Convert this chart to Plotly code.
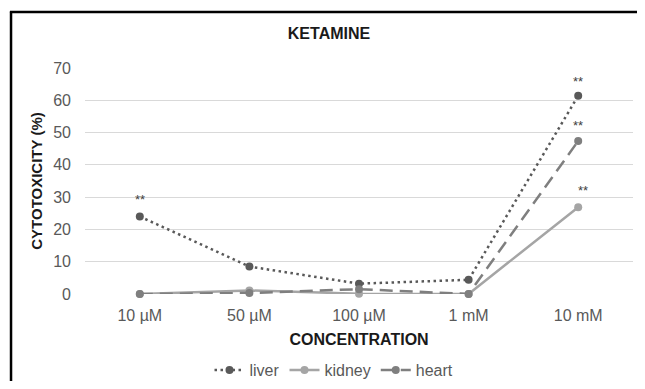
import plotly.graph_objects as go

categories = ["10 µM", "50 µM", "100 µM", "1 mM", "10 mM"]
liver = [24.0, 8.5, 3.2, 4.4, 61.4]
kidney = [0.0, 1.1, 0.1, 0.0, 26.9]
heart = [0.0, 0.3, 1.5, 0.0, 47.4]
y_ticks = [0, 10, 20, 30, 40, 50, 60, 70]

# significance marks: (series values, category index)
sig_marks = [(liver, 0), (liver, 4), (heart, 4), (kidney, 4)]
sig_shift = [(0, 17), (0, 14), (0, 15), (5, 17)]

FONT = "Liberation Sans, Arial"
OFF = 8  # page body margin offset
W, H = 645 - 2 * OFF, 389 - 2 * OFF

fig = go.Figure()
fig.add_trace(go.Scatter(x=categories, y=liver, name="liver", mode="lines+markers",
                         line=dict(color="#595959", width=2.5, dash="2.5px,3.5px"),
                         marker=dict(size=8, color="#595959"), cliponaxis=False))
fig.add_trace(go.Scatter(x=categories, y=kidney, name="kidney", mode="lines+markers",
                         line=dict(color="#a5a5a5", width=2.5),
                         marker=dict(size=8, color="#a5a5a5"), cliponaxis=False))
fig.add_trace(go.Scatter(x=categories, y=heart, name="heart", mode="lines+markers",
                         line=dict(color="#7f7f7f", width=2.5, dash="13px,7px"),
                         marker=dict(size=8, color="#7f7f7f"), cliponaxis=False))

for (series, idx), (dx, dy) in zip(sig_marks, sig_shift):
    fig.add_annotation(x=categories[idx], y=series[idx], text="**", showarrow=False,
                       yshift=dy, xshift=dx,
                       font=dict(family=FONT, size=13, color="#404040"))

# outer frame: top and left edges (right/bottom fall outside the picture)
fig.add_shape(type="line", xref="paper", yref="paper",
              x0=-0.137, x1=1.3, y0=1.248, y1=1.248,
              line=dict(color="black", width=2.5), layer="below")
fig.add_shape(type="line", xref="paper", yref="paper",
              x0=-0.135, x1=-0.135, y0=-0.8, y1=1.25,
              line=dict(color="black", width=2.5), layer="below")

fig.update_layout(
    width=W, height=H,
    margin=dict(l=85 - OFF, r=W - (633 - OFF), t=68 - OFF, b=H - (294 - OFF),
                autoexpand=False),
    paper_bgcolor="white", plot_bgcolor="white",
    font=dict(family=FONT, size=16, color="#595959"),
    title=dict(text="<b>KETAMINE</b>", x=(329 - OFF) / W, xanchor="center", xref="container",
               y=1 - (33 - OFF) / H, yanchor="middle", yref="container",
               font=dict(size=16, color="#1a1a1a")),
    xaxis=dict(type="category", range=[-0.5, 4.5], showgrid=False, showline=False,
               zeroline=False, ticks="", automargin=False, ticklabelstandoff=10,
               tickfont=dict(size=16, color="#595959"),
               title=dict(text="<b>CONCENTRATION</b>", standoff=10,
                          font=dict(size=16, color="#1a1a1a"))),
    yaxis=dict(range=[0, 70], tickvals=y_ticks, showgrid=True, gridcolor="#d9d9d9",
               gridwidth=1.3, zeroline=False, showline=False, ticks="", automargin=False,
               ticklabelstandoff=13,
               tickfont=dict(size=16, color="#595959"),
               title=dict(text="<b>CYTOTOXICITY (%)</b>", standoff=6,
                          font=dict(size=15, color="#1a1a1a"))),
    legend=dict(orientation="h", x=(334 - OFF) / W, xanchor="center", xref="container",
                y=1 - (370 - OFF) / H, yanchor="middle", yref="container",
                font=dict(size=16, color="#595959"), itemwidth=30, tracegroupgap=0),
    showlegend=True,
)

fig.write_html("out.html")
